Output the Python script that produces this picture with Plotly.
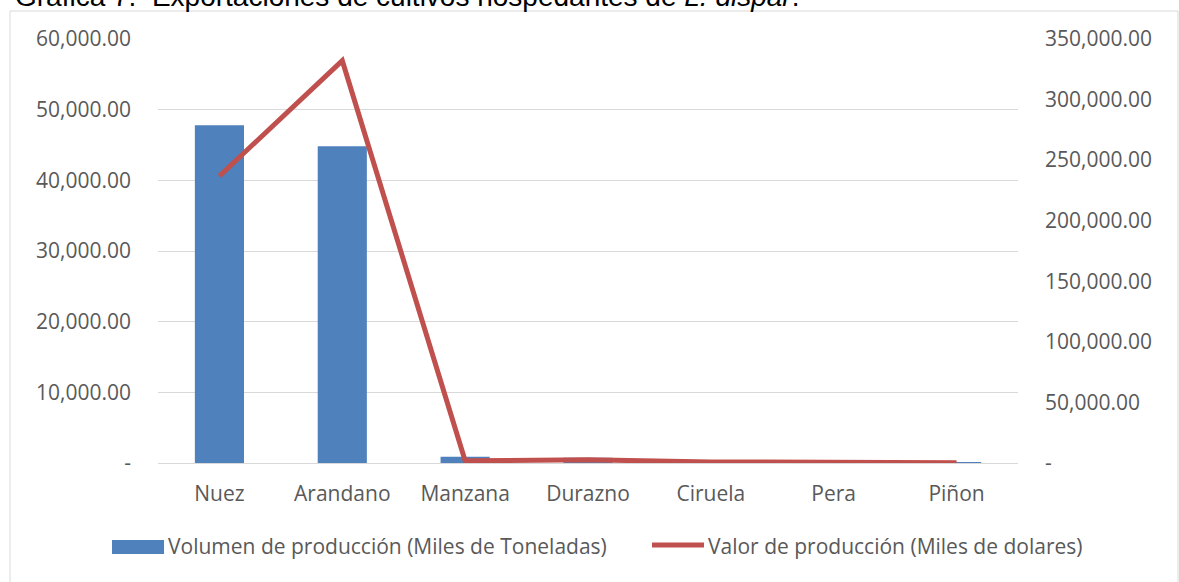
import plotly.graph_objects as go

# Datos de exportación por cultivo
cultivos = ["Nuez", "Arandano", "Manzana", "Durazno", "Ciruela", "Pera", "Piñon"]
volumen = [47800, 44840, 900, 750, 5, 5, 5]             # Miles de toneladas
valor = [236900, 332100, 1800, 2600, 900, 800, 300]     # Miles de dolares

vol_ticks = [0, 10000, 20000, 30000, 40000, 50000, 60000]
vol_labels = ["-", "10,000.00", "20,000.00", "30,000.00", "40,000.00", "50,000.00", "60,000.00"]
val_ticks = [0, 50000, 100000, 150000, 200000, 250000, 300000, 350000]
val_labels = ["-", "50,000.00", "100,000.00", "150,000.00", "200,000.00",
              "250,000.00", "300,000.00", "350,000.00"]

serie_vol = "Volumen de producción (Miles de Toneladas)"
serie_val = "Valor de producción (Miles de dolares)"
titulo = "Gráfica 7.  Exportaciones de cultivos hospedantes de <i>L. dispar</i>."

W, H = 1179, 582
L, R, T, B = 158, 161, 39, 119
PW, PH = W - L - R, H - T - B


def px(x):
    return (x - L) / PW


def py(y):
    return 1 - (y - T) / PH


BLUE = "#4F81BD"
RED = "#C0504D"
GRAY = "#595959"
FONT = "Open Sans"
FS = 21

fig = go.Figure()
fig.add_trace(go.Bar(x=cultivos, y=volumen, name=serie_vol, marker_color=BLUE,
                     marker_line_width=0, yaxis="y"))
fig.add_trace(go.Scatter(x=cultivos, y=valor, name=serie_val, mode="lines",
                         line=dict(color=RED, width=5), yaxis="y2"))

fig.update_layout(
    width=W, height=H,
    margin=dict(l=L, r=R, t=T, b=B),
    paper_bgcolor="white", plot_bgcolor="white",
    showlegend=False,
    bargap=0.6,
    font=dict(family=FONT, color=GRAY, size=FS),
    xaxis=dict(showgrid=False, showline=True, linecolor="#d9d9d9", linewidth=1,
               ticks="", tickfont=dict(size=FS, color=GRAY), ticklabelstandoff=12),
    yaxis=dict(range=[0, 60000], tickvals=vol_ticks, ticktext=vol_labels,
               showgrid=True, gridcolor="#d9d9d9", gridwidth=1, zeroline=False,
               showline=False, ticks="", tickfont=dict(size=FS, color=GRAY),
               ticklabelstandoff=26),
    yaxis2=dict(range=[0, 350000], tickvals=val_ticks, ticktext=val_labels,
                overlaying="y", side="right", showgrid=False, zeroline=False,
                showline=False, ticks="", tickfont=dict(size=FS, color=GRAY),
                ticklabelstandoff=26),
)

# Marco del gráfico
fig.add_shape(type="rect", xref="paper", yref="paper",
              x0=px(10), x1=px(1178), y0=py(700), y1=py(11),
              line=dict(color="#d9d9d9", width=1), fillcolor="rgba(0,0,0,0)", layer="below")

# Leyenda
fig.add_shape(type="rect", xref="paper", yref="paper",
              x0=px(112), x1=px(164), y0=py(554), y1=py(540),
              line=dict(width=0), fillcolor=BLUE)
fig.add_annotation(x=px(166), y=py(546), xref="paper", yref="paper",
                   xanchor="left", yanchor="middle", showarrow=False,
                   text=serie_vol, font=dict(family=FONT, size=FS, color=GRAY))
fig.add_shape(type="line", xref="paper", yref="paper",
              x0=px(652), x1=px(704), y0=py(545), y1=py(545),
              line=dict(color=RED, width=5))
fig.add_annotation(x=px(706), y=py(546), xref="paper", yref="paper",
                   xanchor="left", yanchor="middle", showarrow=False,
                   text=serie_val, font=dict(family=FONT, size=FS, color=GRAY))

# Título
fig.add_annotation(x=px(13), y=py(14), xref="paper", yref="paper",
                   xanchor="left", yanchor="bottom", showarrow=False,
                   text=titulo, font=dict(family="Liberation Sans", size=28, color="#000000"))

fig.write_html("out.html")
